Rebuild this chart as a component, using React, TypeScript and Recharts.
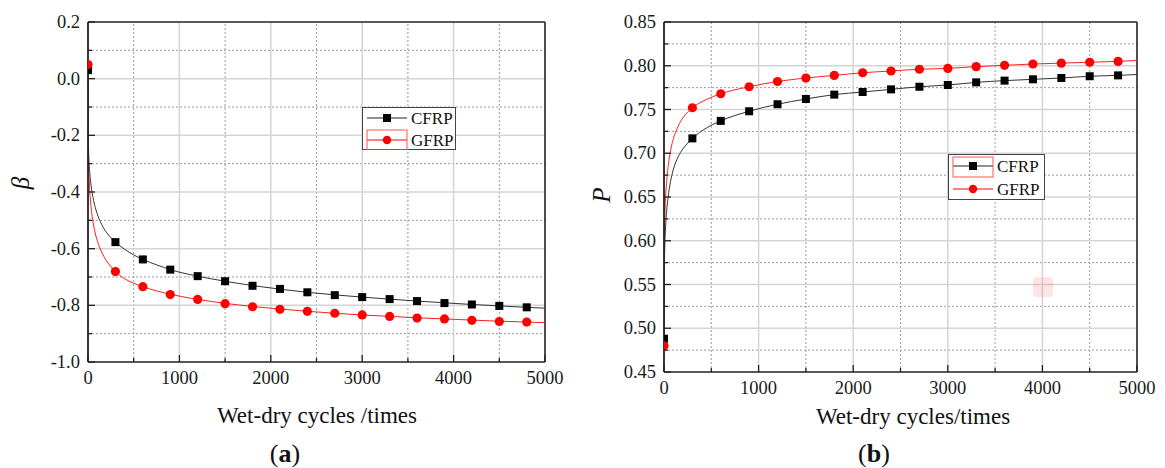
import React from 'react';
import { ComposedChart, Line, Scatter, XAxis, YAxis, ReferenceLine } from 'recharts';

// ---------- data ----------
const cycles = [0, 300, 600, 900, 1200, 1500, 1800, 2100, 2400, 2700, 3000, 3300, 3600, 3900, 4200, 4500, 4800];

const betaCFRP = [0.03, -0.577, -0.638, -0.674, -0.697, -0.715, -0.731, -0.742, -0.754, -0.764, -0.771, -0.778, -0.785, -0.792, -0.797, -0.802, -0.807];
const betaGFRP = [0.05, -0.681, -0.734, -0.762, -0.779, -0.794, -0.805, -0.814, -0.821, -0.828, -0.834, -0.839, -0.845, -0.848, -0.853, -0.857, -0.859];

const pCFRP = [0.488, 0.717, 0.737, 0.748, 0.756, 0.762, 0.767, 0.770, 0.773, 0.776, 0.778, 0.781, 0.783, 0.7845, 0.786, 0.788, 0.789];
const pGFRP = [0.48, 0.752, 0.768, 0.776, 0.782, 0.786, 0.789, 0.792, 0.794, 0.796, 0.797, 0.799, 0.8005, 0.802, 0.803, 0.804, 0.805];

// fitted curves
const betaFitCFRPx = [0, 1, 3, 6, 10, 20, 35, 55, 80, 110, 150, 200, 250, 300, 400, 500, 600, 750, 900, 1200, 1500, 1800, 2100, 2400, 2700, 3000, 3300, 3600, 3900, 4200, 4500, 4800, 5000];
const betaFitCFRPy = [0.03, -0.10, -0.19, -0.245, -0.285, -0.335, -0.38, -0.42, -0.455, -0.485, -0.515, -0.542, -0.561, -0.577, -0.602, -0.622, -0.638, -0.657, -0.674, -0.697, -0.715, -0.730, -0.743, -0.754, -0.763, -0.771, -0.778, -0.785, -0.791, -0.797, -0.802, -0.807, -0.810];
const betaFitGFRPx = [0, 1, 3, 6, 11, 20, 33, 50, 75, 110, 150, 200, 250, 300, 400, 500, 600, 750, 900, 1200, 1500, 1800, 2100, 2400, 2700, 3000, 3300, 3600, 3900, 4200, 4500, 4800, 5000];
const betaFitGFRPy = [0.05, -0.13, -0.24, -0.30, -0.345, -0.40, -0.45, -0.495, -0.54, -0.58, -0.612, -0.642, -0.663, -0.681, -0.706, -0.722, -0.734, -0.749, -0.761, -0.779, -0.793, -0.804, -0.813, -0.821, -0.828, -0.834, -0.839, -0.844, -0.848, -0.852, -0.856, -0.859, -0.861];

const pFitCFRPx = [0, 1, 2, 4, 8, 15, 30, 50, 75, 100, 150, 200, 250, 300, 450, 600, 900, 1200, 1500, 1800, 2100, 2400, 2700, 3000, 3300, 3600, 3900, 4200, 4500, 4800, 5000];
const pFitCFRPy = [0.488, 0.53, 0.55, 0.57, 0.592, 0.612, 0.636, 0.655, 0.671, 0.682, 0.696, 0.705, 0.7115, 0.717, 0.729, 0.737, 0.748, 0.756, 0.762, 0.767, 0.770, 0.773, 0.776, 0.778, 0.781, 0.783, 0.7845, 0.786, 0.788, 0.789, 0.790];
const pFitGFRPx = [0, 1, 2, 4, 8, 15, 30, 50, 75, 100, 150, 200, 250, 300, 450, 600, 900, 1200, 1500, 1800, 2100, 2400, 2700, 3000, 3300, 3600, 3900, 4200, 4500, 4800, 5000];
const pFitGFRPy = [0.48, 0.555, 0.575, 0.60, 0.622, 0.645, 0.670, 0.690, 0.706, 0.717, 0.731, 0.7405, 0.747, 0.752, 0.7615, 0.768, 0.776, 0.782, 0.786, 0.789, 0.792, 0.794, 0.796, 0.797, 0.799, 0.8005, 0.802, 0.803, 0.804, 0.805, 0.806];

// ticks
const xTicks = [0, 500, 1000, 1500, 2000, 2500, 3000, 3500, 4000, 4500, 5000];
const xMajor = [0, 1000, 2000, 3000, 4000, 5000];
const xMinor = [500, 1500, 2500, 3500, 4500];
const betaTicks = [-1.0, -0.9, -0.8, -0.7, -0.6, -0.5, -0.4, -0.3, -0.2, -0.1, 0.0, 0.1, 0.2];
const betaMajor = [-1.0, -0.8, -0.6, -0.4, -0.2, 0.0, 0.2];
const betaMinor = [-0.9, -0.7, -0.5, -0.3, -0.1, 0.1];
const pTicks = [0.45, 0.475, 0.5, 0.525, 0.55, 0.575, 0.6, 0.625, 0.65, 0.675, 0.7, 0.725, 0.75, 0.775, 0.8, 0.825, 0.85];
const pMajor = [0.45, 0.5, 0.55, 0.6, 0.65, 0.7, 0.75, 0.8, 0.85];
const pMinor = [0.475, 0.525, 0.575, 0.625, 0.675, 0.725, 0.775, 0.825];

const pts = (xs: number[], ys: number[]) => xs.map((x, i) => ({ x, y: ys[i] }));

const FONT = 'Liberation Serif, Tinos, Times New Roman, DejaVu Serif, serif';
const MAJOR_GRID = '#d4d4d4';
const MINOR_GRID = '#9a9a9a';
const AXIS = '#222';

const near = (v: number, arr: number[]) => arr.some((a) => Math.abs(a - v) < 1e-6);

const XTick = (props: any) => {
  const { x, y, payload } = props;
  const v = payload.value;
  const major = near(v, xMajor);
  return (
    <g>
      <line x1={x} x2={x} y1={y} y2={y - (major ? 7 : 4)} stroke={AXIS} strokeWidth={1.3} />
      {major && (
        <text x={x} y={y + 16} textAnchor="middle" dominantBaseline="central" style={{ fontFamily: FONT }} fontSize={18.5} fill="#1a1a1a">
          {v}
        </text>
      )}
    </g>
  );
};

const makeYTick = (majors: number[], digits: number) => (props: any) => {
  const { x, y, payload } = props;
  const v = payload.value;
  const major = near(v, majors);
  return (
    <g>
      <line x1={x} x2={x + (major ? 7 : 4)} y1={y} y2={y} stroke={AXIS} strokeWidth={1.3} />
      {major && (
        <text x={x - 8} y={y} textAnchor="end" dominantBaseline="central" style={{ fontFamily: FONT }} fontSize={18.5} fill="#1a1a1a">
          {v.toFixed(digits)}
        </text>
      )}
    </g>
  );
};

const BetaTick = makeYTick(betaMajor, 1);
const PTick = makeYTick(pMajor, 2);

const Square = (props: any) => {
  const { cx, cy } = props;
  if (cx == null || cy == null) return null;
  return <rect x={cx - 4} y={cy - 4} width={8} height={8} fill="#000" />;
};
const Dot = (props: any) => {
  const { cx, cy } = props;
  if (cx == null || cy == null) return null;
  return <circle cx={cx} cy={cy} r={4.6} fill="#ff0000" />;
};

const gridLines = (xMaj: number[], xMin: number[], yMaj: number[], yMin: number[]) => [
  ...xMin.map((v) => <ReferenceLine key={'xm' + v} x={v} stroke={MINOR_GRID} strokeDasharray="2 2" strokeWidth={1} />),
  ...yMin.map((v) => <ReferenceLine key={'ym' + v} y={v} stroke={MINOR_GRID} strokeDasharray="2 2" strokeWidth={1} />),
  ...xMaj.map((v) => <ReferenceLine key={'xM' + v} x={v} stroke={MAJOR_GRID} strokeWidth={1.5} />),
  ...yMaj.map((v) => <ReferenceLine key={'yM' + v} y={v} stroke={MAJOR_GRID} strokeWidth={1.5} />),
];

const textStyle = (left: number, top: number, size: number): React.CSSProperties => ({
  position: 'absolute',
  left,
  top,
  transform: 'translate(-50%, -50%)',
  fontFamily: FONT,
  fontSize: size,
  color: '#111',
  whiteSpace: 'nowrap',
  lineHeight: 1,
});

const LegendBox = ({ left, top, w, h, r1, r2, hl }: any) => (
  <div style={{ position: 'absolute', left, top, width: w, height: h }}>
    <svg width={w} height={h} style={{ display: 'block' }}>
      <rect x={0.5} y={0.5} width={w - 1} height={h - 1} fill="#fff" stroke="#444" strokeWidth={1} />
      <line x1={5} x2={45} y1={r1} y2={r1} stroke="#222" strokeWidth={1} />
      <rect x={21} y={r1 - 4} width={8} height={8} fill="#000" />
      <text x={49} y={r1} dominantBaseline="central" style={{ fontFamily: FONT }} fontSize={17} fill="#111">CFRP</text>
      <line x1={5} x2={45} y1={r2} y2={r2} stroke="#ff0000" strokeWidth={1} />
      <circle cx={25} cy={r2} r={4.2} fill="#ff0000" />
      <text x={49} y={r2} dominantBaseline="central" style={{ fontFamily: FONT }} fontSize={17} fill="#111">GFRP</text>
      <rect x={5} y={hl - 10} width={40} height={20} fill="none" stroke="#ff5555" strokeWidth={1} />
    </svg>
  </div>
);

export default function App() {
  return (
    <div style={{ position: 'absolute', left: 0, top: 0, width: 1165, height: 468, background: '#fff', overflow: 'hidden', fontFamily: FONT }}>
      {/* (a) */}
      <div style={{ position: 'absolute', left: 0, top: 0 }}>
        <ComposedChart width={580} height={468} margin={{ top: 22, right: 35, bottom: 0, left: 0 }}>
          <XAxis
            type="number"
            dataKey="x"
            domain={[0, 5000]}
            ticks={xTicks}
            interval={0}
            allowDataOverflow
            height={106}
            tickSize={0}
            tickMargin={0}
            tickLine={false}
            tick={(p: any) => <XTick {...p} />}
            axisLine={{ stroke: AXIS, strokeWidth: 1.6 }}
          />
          <YAxis
            type="number"
            dataKey="y"
            domain={[-1, 0.2]}
            ticks={betaTicks}
            interval={0}
            allowDataOverflow
            width={88}
            tickSize={0}
            tickMargin={0}
            tickLine={false}
            tick={(p: any) => <BetaTick {...p} />}
            axisLine={{ stroke: AXIS, strokeWidth: 1.8 }}
          />
          {gridLines(xMajor.slice(1, -1), xMinor, betaMajor.slice(1, -1), betaMinor)}
          <ReferenceLine y={0.2} stroke={AXIS} strokeWidth={1.6} />
          <ReferenceLine x={5000} stroke={AXIS} strokeWidth={1.6} />
          <Line data={pts(betaFitCFRPx, betaFitCFRPy)} dataKey="y" type="monotone" stroke="#333" strokeWidth={1} dot={false} isAnimationActive={false} />
          <Line data={pts(betaFitGFRPx, betaFitGFRPy)} dataKey="y" type="monotone" stroke="#ff2020" strokeWidth={1} dot={false} isAnimationActive={false} />
          <Scatter data={pts(cycles, betaCFRP)} dataKey="y" shape={(p: any) => <Square {...p} />} isAnimationActive={false} />
          <Scatter data={pts(cycles, betaGFRP)} dataKey="y" shape={(p: any) => <Dot {...p} />} isAnimationActive={false} />
        </ComposedChart>
      </div>

      {/* (b) */}
      <div style={{ position: 'absolute', left: 580, top: 0 }}>
        <ComposedChart width={585} height={468} margin={{ top: 22, right: 28, bottom: 0, left: 0 }}>
          <XAxis
            type="number"
            dataKey="x"
            domain={[0, 5000]}
            ticks={xTicks}
            interval={0}
            allowDataOverflow
            height={96}
            tickSize={0}
            tickMargin={0}
            tickLine={false}
            tick={(p: any) => <XTick {...p} />}
            axisLine={{ stroke: AXIS, strokeWidth: 1.6 }}
          />
          <YAxis
            type="number"
            dataKey="y"
            domain={[0.45, 0.85]}
            ticks={pTicks}
            interval={0}
            allowDataOverflow
            width={84}
            tickSize={0}
            tickMargin={0}
            tickLine={false}
            tick={(p: any) => <PTick {...p} />}
            axisLine={{ stroke: AXIS, strokeWidth: 1.8 }}
          />
          {gridLines(xMajor.slice(1, -1), xMinor, pMajor.slice(1, -1), pMinor)}
          <ReferenceLine y={0.85} stroke={AXIS} strokeWidth={1.6} />
          <ReferenceLine x={5000} stroke={AXIS} strokeWidth={1.6} />
          <Line data={pts(pFitCFRPx, pFitCFRPy)} dataKey="y" type="monotone" stroke="#333" strokeWidth={1} dot={false} isAnimationActive={false} />
          <Line data={pts(pFitGFRPx, pFitGFRPy)} dataKey="y" type="monotone" stroke="#ff2020" strokeWidth={1} dot={false} isAnimationActive={false} />
          <Scatter data={pts(cycles, pCFRP)} dataKey="y" shape={(p: any) => <Square {...p} />} isAnimationActive={false} />
          <Scatter data={pts(cycles, pGFRP)} dataKey="y" shape={(p: any) => <Dot {...p} />} isAnimationActive={false} />
        </ComposedChart>
      </div>

      {/* legends */}
      <LegendBox left={362} top={107} w={94} h={43} r1={11} r2={33} hl={33} />
      <LegendBox left={948} top={154} w={97} h={46} r1={12} r2={35} hl={13} />

      {/* watermark icon */}
      <div style={{ position: 'absolute', left: 1033, top: 277, width: 20, height: 20, borderRadius: 4, background: 'rgba(255,90,90,0.16)' }} />

      {/* axis titles */}
      <div style={{ ...textStyle(20, 183, 25), fontStyle: 'italic', transform: 'translate(-50%, -50%) rotate(-90deg)' }}>β</div>
      <div style={{ ...textStyle(601, 195, 25), fontStyle: 'italic', transform: 'translate(-50%, -50%) rotate(-90deg)' }}>P</div>
      <div style={textStyle(317, 415, 23)}>Wet-dry cycles /times</div>
      <div style={textStyle(913, 416, 23)}>Wet-dry cycles/times</div>
      <div style={textStyle(285, 454, 26)}>(<b>a</b>)</div>
      <div style={textStyle(874, 454, 26)}>(<b>b</b>)</div>
    </div>
  );
}
